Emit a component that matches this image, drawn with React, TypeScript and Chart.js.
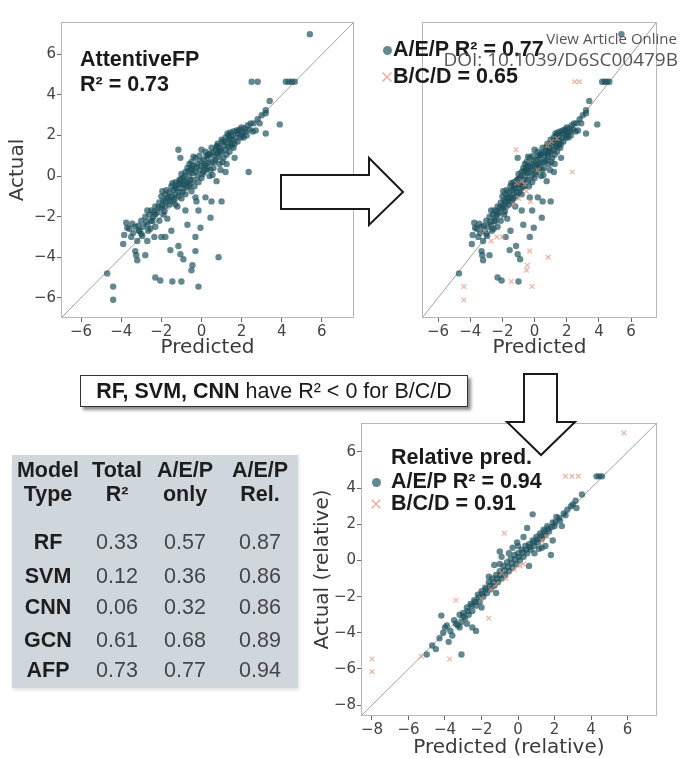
import React, { useEffect, useRef } from "react";
import { Chart, registerables } from "chart.js";
Chart.register(...registerables);

const TEAL = "rgba(27,80,92,0.68)";
const SALMON = "rgba(226,145,118,0.7)";

const mainTicks = [-6, -4, -2, 0, 2, 4, 6];
const relTicks = [-8, -6, -4, -2, 0, 2, 4, 6];
const mainRange = [-7.0, 7.6];
const relRange = [-8.6, 7.6];

type P = [number, number];

// AttentiveFP predictions (predicted, actual) for A/E/P test compounds
const aepPairs: P[] = [
  [-3.6, -2.6], [-3.5, -3.0], [-3.4, -2.8], [-3.3, -2.5], [-3.2, -3.2], [-3.1, -2.7], [-3.0, -2.2], [-2.9, -2.5],
  [-2.8, -2.0], [-2.7, -2.4], [-2.6, -1.9], [-2.5, -2.2], [-2.5, -1.7], [-2.4, -2.0], [-2.3, -1.5], [-2.3, -2.5],
  [-2.2, -1.8], [-2.1, -1.3], [-2.1, -2.2], [-2.0, -1.6], [-2.0, -1.0], [-1.9, -1.9], [-1.9, -1.2], [-1.8, -1.5],
  [-1.8, -0.9], [-1.7, -1.1], [-1.7, -2.1], [-1.6, -0.8], [-1.6, -1.4], [-1.5, -1.0], [-1.5, -0.5], [-1.4, -1.2],
  [-1.4, -0.7], [-1.3, -0.3], [-1.3, -0.9], [-1.2, -0.6], [-1.2, -1.5], [-1.1, -0.2], [-1.1, -0.8], [-1.0, -0.4],
  [-1.0, 0.1], [-0.9, -0.6], [-0.9, -0.1], [-0.8, 0.2], [-0.8, -0.9], [-0.7, -0.3], [-0.7, 0.4], [-0.6, 0.0],
  [-0.6, -0.5], [-0.5, 0.3], [-0.5, 0.7], [-0.4, -0.2], [-0.4, 0.5], [-0.3, 0.2], [-0.3, 0.9], [-0.2, 0.0],
  [-0.2, 0.6], [-0.1, 0.3], [-0.1, 1.0], [0.0, 0.5], [0.0, -0.1], [0.1, 0.8], [0.1, 0.2], [0.2, 0.6],
  [0.2, 1.2], [0.3, 0.4], [0.3, 0.9], [0.4, 1.1], [0.4, 0.0], [0.5, 0.7], [0.5, 1.4], [0.6, 1.0],
  [0.6, 0.4], [0.7, 1.3], [0.7, 0.8], [0.8, 1.6], [0.8, 1.1], [0.9, 0.6], [0.9, 1.4], [1.0, 1.8],
  [1.0, 1.2], [1.1, 1.5], [1.1, 0.9], [1.2, 1.9], [1.2, 1.3], [1.3, 1.6], [1.3, 2.1], [1.4, 1.2],
  [1.4, 1.8], [1.5, 2.0], [1.5, 1.6], [1.6, 2.2], [1.6, 1.4], [1.7, 1.9], [1.8, 2.1], [1.8, 1.7],
  [1.9, 2.3], [2.0, 2.0], [2.0, 2.4], [2.1, 1.9], [2.2, 2.2], [2.3, 2.5], [2.4, 2.3], [2.6, 2.6],
  [2.8, 2.8], [3.0, 3.0], [3.2, 3.1],
  [-3.45, -2.35], [-3.15, -2.45], [-2.95, -2.95], [-2.75, -2.25], [-2.55, -2.6], [-2.35, -1.75], [-2.15, -1.55], [-1.95, -1.45],
  [-1.85, -1.75], [-1.75, -0.7], [-1.55, -1.25], [-1.45, -0.35], [-1.35, -1.1], [-1.25, -0.45], [-1.15, -1.0], [-1.05, -0.15],
  [-0.95, -0.8], [-0.85, 0.0], [-0.75, -0.55], [-0.65, 0.25], [-0.55, -0.2], [-0.45, 0.15], [-0.35, -0.5], [-0.25, 0.45],
  [-0.15, -0.3], [-0.05, 0.75], [0.05, 0.1], [0.15, 0.5], [0.25, 1.0], [0.35, 0.65], [0.45, 0.3], [0.55, 1.15],
  [0.65, 0.7], [0.75, 1.45], [0.85, 0.95], [0.95, 1.25], [1.05, 0.7], [1.15, 1.7], [1.25, 1.05], [1.35, 1.45],
  [1.45, 2.15], [1.55, 1.8], [1.65, 1.6], [1.75, 2.25], [1.95, 1.9], [2.05, 2.15], [2.25, 2.0], [2.45, 2.6],
  [2.55, 2.2], [2.9, 2.6], [-0.4, 0.95], [0.0, 1.3], [-0.6, 0.6], [0.55, 0.05], [0.95, 0.3], [1.25, 0.6],
  [5.4, 7.0], [4.2, 4.65], [4.35, 4.65], [4.5, 4.65], [4.65, 4.65], [3.4, 3.7], [3.2, 3.25], [3.9, 2.55],
  [3.2, 2.1], [2.7, 2.25], [1.65, 0.9], [1.2, 0.2], [0.75, -0.25], [1.0, -1.25], [0.5, -1.25], [0.45, -2.05],
  [0.2, -1.05], [-0.15, -1.7], [-0.3, -1.05], [-0.8, -1.7], [-1.8, -1.25], [-1.65, -1.05], [-0.05, -2.55], [-0.7, -2.4],
  [-1.5, -2.7], [-1.8, -3.0], [-0.3, -3.0], [-1.55, -3.65], [-1.15, -3.45], [-1.05, -3.85], [-0.9, -4.1], [-2.65, -2.7],
  [-3.0, -2.85], [-2.3, -1.9], [-2.45, -2.2], [-2.7, -1.7], [-1.95, -0.75], [-1.05, 0.9], [-3.7, -2.55], [-3.9, -3.35],
  [-3.3, -3.7], [-3.2, -4.15], [-2.8, -3.9], [-4.7, -4.8], [-2.3, -5.0], [-2.05, -5.15], [-1.0, -5.2], [0.85, 1.2],
  [0.35, 1.05], [-0.5, 0.4], [-0.9, -0.4], [-1.3, -0.6], [1.5, 1.5], [1.85, 2.2], [2.15, 2.35], [1.35, 2.0],
  [-3.75, -2.3], [-3.85, -2.9], [-3.25, -3.9],
];

// AttentiveFP predictions for B/C/D test compounds
const bcdPairs: P[] = [
  [2.5, 4.65], [2.8, 4.65], [-1.15, 1.3], [2.35, 0.2], [-0.3, -3.7], [0.85, -4.0], [-0.45, -4.4], [-0.5, -4.65],
  [-1.45, -5.2], [-0.15, -5.45], [-4.4, -5.45], [-4.4, -6.1], [-2.7, -3.2], [-2.35, -3.0], [-2.0, -3.0], [-1.1, -0.35],
  [-0.8, -0.25], [-0.5, -0.75], [-1.0, -1.1], [-0.25, -1.25], [1.05, 1.7], [1.4, 1.85], [0.8, 1.5], [-1.3, -1.4],
  [-3.1, -2.7], [-0.6, -0.4], [0.2, 0.3],
];

// Relative predictions
const relAepPairs: P[] = [
  [4.3, 4.65], [4.45, 4.65], [4.6, 4.65], [3.5, 3.65], [3.15, 3.3], [2.9, 3.0], [3.2, 2.9], [2.7, 2.8],
  [2.5, 2.6], [2.3, 2.2], [2.1, 2.4], [2.0, 1.9], [1.9, 2.1], [1.7, 1.6], [1.6, 1.9], [1.5, 1.4],
  [1.4, 1.7], [1.3, 1.2], [1.2, 1.5], [1.1, 1.0], [1.0, 1.3], [0.9, 0.8], [0.8, 2.55], [0.8, 1.1],
  [0.7, 0.6], [0.6, 0.9], [0.5, 0.4], [0.4, 0.8], [0.3, 0.2], [0.2, 0.6], [0.1, 0.0], [0.0, 0.4],
  [-0.05, 1.0], [-0.1, -0.2], [-0.2, 0.3], [-0.3, -0.4], [-0.4, 0.1], [-0.5, -0.6], [-0.6, -0.1], [-0.7, -0.8],
  [-0.8, -0.3], [-0.9, -1.0], [-1.0, -0.6], [-1.1, -1.2], [-1.2, -0.8], [-1.3, -0.25], [-1.3, -1.4], [-1.4, -1.0],
  [-1.5, -1.6], [-1.6, -1.2], [-1.7, -1.8], [-1.8, -1.5], [-1.9, -2.0], [-2.0, -1.7], [-2.1, -2.3], [-2.2, -1.9],
  [-2.3, -2.5], [-2.4, -2.2], [-2.5, -2.8], [-2.6, -2.4], [-2.7, -3.0], [-2.8, -2.6], [-2.9, -3.2], [-3.0, -2.9],
  [-3.1, -3.4], [-3.2, -3.0], [-3.3, -3.6], [-3.5, -3.3], [-3.7, -3.9], [-4.0, -3.7], [-4.2, -3.05], [-4.3, -4.3],
  [-3.6, -4.15], [-3.1, -5.2], [-4.7, -4.7], [-4.5, -4.9], [-5.0, -5.2], [-2.3, -3.9], [-2.5, -3.7], [1.5, 0.8],
  [1.8, 0.3], [1.15, 0.65], [0.3, 1.3], [0.6, -0.3], [-0.3, 0.7], [1.9, 1.1], [2.4, 1.9], [-0.9, 0.2],
  [-1.0, 0.5], [0.5, 1.8], [-3.8, -4.5],
  [-4.1, -4.0], [-3.9, -3.6], [-3.4, -3.5], [-3.0, -3.1], [-2.75, -2.8], [-2.55, -2.5], [-2.35, -2.3], [-2.15, -2.05],
  [-1.95, -1.85], [-1.75, -1.6], [-1.55, -1.4], [-1.35, -1.2], [-1.15, -1.0], [-0.95, -0.8], [-0.75, -0.55], [-0.55, -0.35],
  [-0.35, -0.15], [-0.15, 0.05], [0.05, 0.2], [0.25, 0.45], [0.45, 0.6], [0.65, 0.75], [0.85, 1.0], [1.05, 1.15],
  [1.25, 1.35], [1.45, 1.6], [1.65, 1.75], [1.85, 1.85], [2.05, 2.1], [2.25, 2.35], [2.6, 2.5], [3.0, 3.1],
  [-1.0, -0.2], [-0.5, 0.4], [0.0, 0.8], [-1.6, -0.9], [-2.0, -2.6], [-1.2, -1.8], [0.9, 0.4], [1.3, 0.7],
  [-2.8, -3.5], [-3.2, -3.7],
];

const relBcdPairs: P[] = [
  [5.8, 7.05], [2.6, 4.65], [2.95, 4.65], [3.3, 4.65], [-0.75, 1.5], [-0.65, -1.0], [-1.6, -3.2], [-3.4, -2.2],
  [-3.75, -5.45], [-8.0, -5.45], [-8.0, -6.15], [-1.2, -1.3], [-0.9, -0.7], [-0.2, -0.5], [0.1, -0.3], [1.3, 1.1],
  [1.6, 1.3], [-2.0, -2.1], [-1.5, -1.6], [-5.3, -5.3], [0.3, -0.2],
];

// Table
const headerTop = ["Model", "Total", "A/E/P", "A/E/P"];
const headerBottom = ["Type", "R²", "only", "Rel."];
const models = ["RF", "SVM", "CNN", "GCN", "AFP"];
const totalR2 = ["0.33", "0.12", "0.06", "0.61", "0.73"];
const aepOnly = ["0.57", "0.36", "0.32", "0.68", "0.77"];
const aepRel = ["0.87", "0.86", "0.86", "0.89", "0.94"];

const fmt = (v: number) => (v < 0 ? "\u2212" + Math.abs(v) : String(v));
const toXY = (ps: P[]) => ps.map(([x, y]) => ({ x, y }));

const framePlugin = {
  id: "frame",
  afterDatasetsDraw(chart: any) {
    const { ctx, chartArea: a } = chart;
    ctx.save();
    ctx.strokeStyle = "#b8b8b8";
    ctx.lineWidth = 1;
    ctx.strokeRect(Math.round(a.left) + 0.5, Math.round(a.top) + 0.5, Math.round(a.right - a.left) - 1, Math.round(a.bottom - a.top) - 1);
    ctx.restore();
  },
};

interface Cfg {
  range: number[];
  ticks: number[];
  showY: boolean;
  xTitle: string;
  yTitle: string;
  yTitlePad: number;
  xTitlePad: number;
  padding: any;
  teal: P[];
  salmon: P[];
}

function build(canvas: HTMLCanvasElement, c: Cfg) {
  const tickFont = { family: "DejaVu Sans", size: 15 };
  const titleFont = { family: "DejaVu Sans", size: 20, lineHeight: 1 };
  const axis = (isX: boolean) => ({
    type: "linear",
    min: c.range[0],
    max: c.range[1],
    afterBuildTicks: (s: any) => {
      s.ticks = c.ticks.map((v) => ({ value: v }));
    },
    afterFit: (s: any) => {
      if (isX) s.height = 42;
      else s.width = 61;
    },
    ticks: {
      font: tickFont,
      color: "#444",
      padding: 1,
      maxRotation: 0,
      autoSkip: false,
      callback: (v: any) => fmt(Number(v)),
    },
    grid: { display: true, drawOnChartArea: false, drawTicks: true, tickLength: 4, tickColor: "#666", color: "#666", lineWidth: 1 },
    border: { display: false },
    title: {
      display: true,
      text: isX ? c.xTitle : c.yTitle,
      font: titleFont,
      color: "#3a3a3a",
      padding: isX ? { top: 0, bottom: c.xTitlePad } : { top: c.yTitlePad, bottom: 0 },
    },
  });
  const datasets: any[] = [
    {
      type: "line",
      data: [
        { x: c.range[0], y: c.range[0] },
        { x: c.range[1], y: c.range[1] },
      ],
      borderColor: "#a0a0a0",
      borderWidth: 1,
      pointRadius: 0,
      showLine: true,
      fill: false,
      order: 3,
    },
    {
      type: "scatter",
      data: toXY(c.teal),
      backgroundColor: TEAL,
      borderWidth: 0,
      pointRadius: 3.2,
      order: 2,
    },
  ];
  if (c.salmon.length) {
    datasets.push({
      type: "scatter",
      data: toXY(c.salmon),
      pointStyle: "crossRot",
      borderColor: SALMON,
      backgroundColor: SALMON,
      borderWidth: 1.2,
      pointRadius: 3.3,
      order: 1,
    });
  }
  const yAxis: any = axis(false);
  if (!c.showY) yAxis.display = false;
  return new Chart(canvas, {
    type: "scatter",
    data: { datasets },
    options: {
      responsive: false,
      animation: false,
      events: [],
      layout: { padding: c.padding },
      plugins: { legend: { display: false }, tooltip: { enabled: false } },
      scales: { x: axis(true) as any, y: yAxis },
    },
    plugins: [framePlugin],
  } as any);
}

function ChartCanvas(props: { left: number; top: number; width: number; height: number; cfg: Cfg }) {
  const ref = useRef<HTMLCanvasElement>(null);
  useEffect(() => {
    const ch = build(ref.current!, props.cfg);
    return () => ch.destroy();
  }, []);
  return (
    <canvas
      ref={ref}
      width={props.width}
      height={props.height}
      style={{ position: "absolute", left: props.left, top: props.top, width: props.width, height: props.height }}
    />
  );
}

const FS = 21.5;

function Txt(props: { x: number; cy: number; size?: number; bold?: boolean; color?: string; children: any }) {
  const size = props.size ?? FS;
  return (
    <div
      style={{
        position: "absolute",
        left: props.x,
        top: props.cy - size / 2,
        fontSize: size,
        lineHeight: size + "px",
        fontWeight: props.bold === false ? 400 : 700,
        color: props.color ?? "#1a1a1a",
        whiteSpace: "nowrap",
      }}
    >
      {props.children}
    </div>
  );
}

function Dot({ x, y }: { x: number; y: number }) {
  return <div style={{ position: "absolute", left: x - 4.5, top: y - 4.5, width: 9, height: 9, borderRadius: "50%", background: TEAL }} />;
}
function Cross({ x, y }: { x: number; y: number }) {
  return (
    <svg style={{ position: "absolute", left: x - 6, top: y - 6 }} width={12} height={12}>
      <path d="M1.5 1.5 L10.5 10.5 M10.5 1.5 L1.5 10.5" stroke={SALMON} strokeWidth={1.5} />
    </svg>
  );
}

const colCenters = [48, 117, 185, 260];
const rowCenters = [543, 577, 608, 641, 671];

export default function App() {
  const cfg1: Cfg = {
    range: mainRange, ticks: mainTicks, showY: true, xTitle: "Predicted", yTitle: "Actual",
    yTitlePad: 8, xTitlePad: 2, padding: { top: 10, right: 2, left: 0, bottom: 0 },
    teal: [...aepPairs, ...bcdPairs], salmon: [],
  };
  const cfg2: Cfg = {
    range: mainRange, ticks: mainTicks, showY: false, xTitle: "Predicted", yTitle: "",
    yTitlePad: 0, xTitlePad: 2, padding: { top: 10, right: 3, left: 5, bottom: 0 },
    teal: aepPairs, salmon: bcdPairs,
  };
  const cfg3: Cfg = {
    range: relRange, ticks: relTicks, showY: true, xTitle: "Predicted (relative)", yTitle: "Actual (relative)",
    yTitlePad: 13, xTitlePad: 0, padding: { top: 10, right: 3, left: 0, bottom: 0 },
    teal: relAepPairs, salmon: relBcdPairs,
  };
  const cell = (cx: number, cy: number, bold: boolean, color: string) => ({
    position: "absolute" as const, left: cx - 45, width: 90, top: cy - FS / 2, textAlign: "center" as const,
    fontSize: FS, lineHeight: FS + "px", fontWeight: bold ? 700 : 400, color,
  });
  return (
    <div
      style={{
        position: "fixed", left: 0, top: 0, width: 681, height: 758, background: "#fff", overflow: "hidden",
        fontFamily: "'Liberation Sans', Arial, sans-serif",
      }}
    >
      <ChartCanvas left={0} top={12} width={358} height={348} cfg={cfg1} />
      <ChartCanvas left={356} top={12} width={306} height={348} cfg={cfg2} />
      <ChartCanvas left={300} top={413} width={362} height={345} cfg={cfg3} />

      {/* chart 1 annotation */}
      <Txt x={80} cy={60}>AttentiveFP</Txt>
      <Txt x={80} cy={85}>R² = 0.73</Txt>

      {/* chart 2 annotation */}
      <Dot x={387} y={50} />
      <Txt x={393} cy={50}>A/E/P R² = 0.77</Txt>
      <Cross x={387} y={77} />
      <Txt x={393} cy={77}>B/C/D = 0.65</Txt>

      {/* chart 3 annotation */}
      <Txt x={391} cy={458}>Relative pred.</Txt>
      <Dot x={376} y={482} />
      <Txt x={391} cy={482}>A/E/P R² = 0.94</Txt>
      <Cross x={376} y={504} />
      <Txt x={391} cy={504}>B/C/D = 0.91</Txt>

      {/* watermark */}
      <div style={{ position: "absolute", right: 4, top: 29, fontFamily: "'Open Sans', sans-serif", fontSize: 15, lineHeight: "18px", color: "#555", whiteSpace: "nowrap" }}>
        View Article Online
      </div>
      <div style={{ position: "absolute", right: 3, top: 48, fontFamily: "'Open Sans', sans-serif", fontSize: 19, lineHeight: "23px", color: "#555", whiteSpace: "nowrap" }}>
        DOI: 10.1039/D6SC00479B
      </div>

      {/* note box */}
      <div
        style={{
          position: "absolute", left: 80, top: 375, width: 388, height: 32, boxSizing: "border-box",
          border: "1.5px solid #333", background: "#fff", boxShadow: "3px 3px 3px rgba(0,0,0,0.45)",
          display: "flex", alignItems: "center", justifyContent: "center", fontSize: FS, color: "#1a1a1a", whiteSpace: "nowrap",
        }}
      >
        <span style={{ fontWeight: 700 }}>RF, SVM, CNN</span>
        <span>&nbsp;have R² &lt; 0 for B/C/D</span>
      </div>

      {/* table */}
      <div style={{ position: "absolute", left: 12, top: 455, width: 286, height: 233, background: "#cfd7dc", boxShadow: "1px 2px 3px rgba(0,0,0,0.12)" }} />
      {colCenters.map((cx, i) => (
        <React.Fragment key={"h" + i}>
          <div style={cell(cx, 471, true, "#1e1e1e")}>{headerTop[i]}</div>
          <div style={cell(cx, 495, true, "#1e1e1e")}>{headerBottom[i]}</div>
        </React.Fragment>
      ))}
      {models.map((m, r) => {
        const vals = [m, totalR2[r], aepOnly[r], aepRel[r]];
        return vals.map((v, i) => (
          <div key={m + i} style={cell(colCenters[i], rowCenters[r], i === 0, i === 0 ? "#1e1e1e" : "#454545")}>
            {v}
          </div>
        ));
      })}

      {/* arrows */}
      <svg style={{ position: "absolute", left: 0, top: 0, pointerEvents: "none" }} width={681} height={758}>
        <polygon points="281,175 369,175 369,158 403,192 369,225 369,209 281,209" fill="#fff" stroke="#1a1a1a" strokeWidth={2} />
        <polygon points="524,374 557,374 557,422 575,422 541,455 507,422 524,422" fill="#fff" stroke="#1a1a1a" strokeWidth={2} />
      </svg>
    </div>
  );
}
